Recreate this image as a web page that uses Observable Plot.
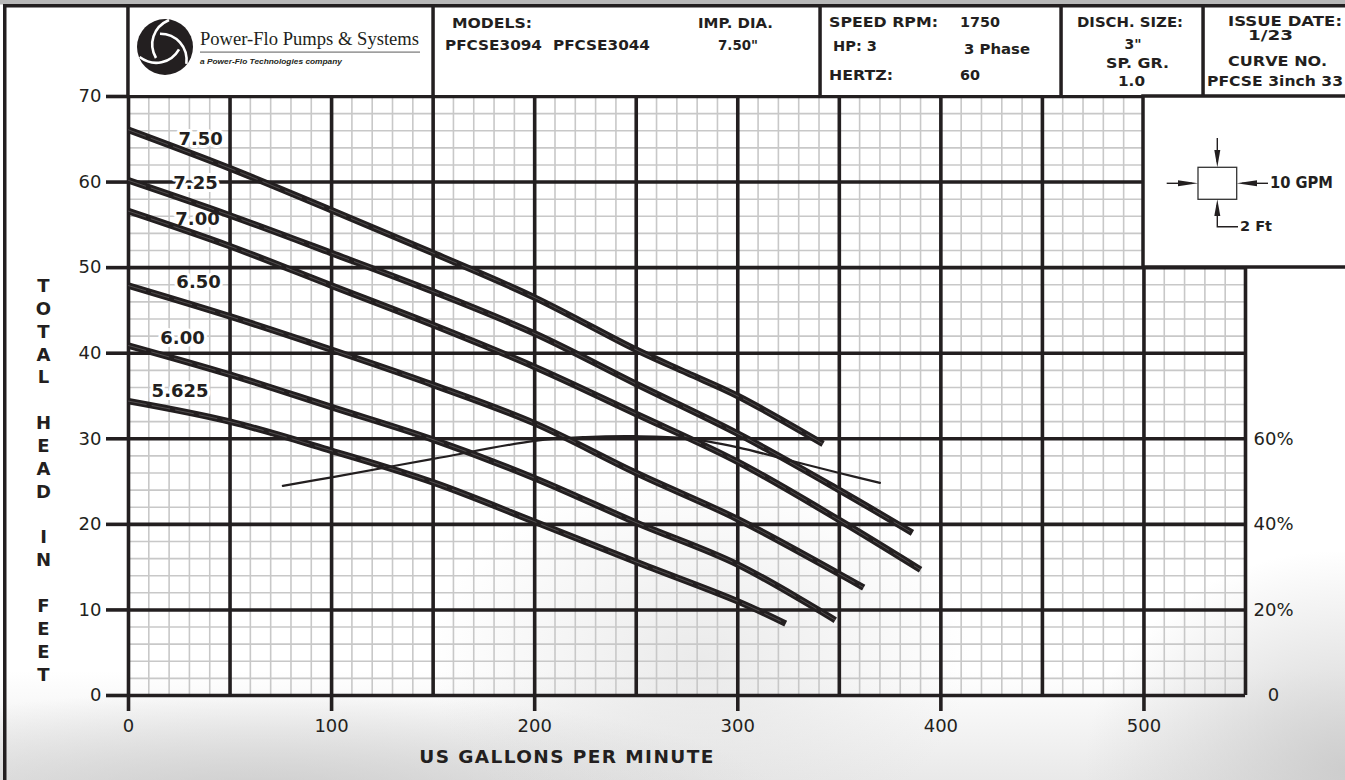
<!DOCTYPE html>
<html><head><meta charset="utf-8">
<script src="https://cdn.jsdelivr.net/npm/d3@7"></script>
<script src="https://cdn.jsdelivr.net/npm/@observablehq/plot@0.6"></script>
<style>
html,body{margin:0;padding:0;background:#fff;}
#wrap{position:relative;width:1345px;height:780px;overflow:hidden;
 background:
  radial-gradient(270px 190px at 700px 660px, rgba(214,214,214,0.5), rgba(255,255,255,0)),
  radial-gradient(520px 110px at 260px 800px, rgba(200,200,200,0.85), rgba(255,255,255,0)),
  radial-gradient(260px 220px at 1345px 770px, rgba(200,200,200,0.85), rgba(255,255,255,0)),
  linear-gradient(to bottom, #fff 0, #fff 86%, #e9e9e9 100%);}
#wrap > svg{position:absolute;left:0;top:0;}
#overlay{pointer-events:none;}
#overlay text.h{font-family:"DejaVu Sans",sans-serif;font-weight:bold;font-size:14px;fill:#231f20;}
</style></head><body>
<div id="wrap">
<svg id="overlay" width="1345" height="780" viewBox="0 0 1345 780">
  <rect x="0" y="0" width="1345" height="4.5" fill="#b8b8b8"/>
  <rect x="128" y="6" width="1217" height="89" fill="#fff"/>
  <rect x="3" y="4" width="1342" height="3.5" fill="#231f20"/>
  <rect x="3" y="4" width="3.5" height="776" fill="#231f20"/>
  <rect x="126.2" y="5" width="3.5" height="92" fill="#231f20"/>
  <rect x="431.3" y="5" width="3.5" height="92" fill="#231f20"/>
  <rect x="818.3" y="5" width="3.5" height="92" fill="#231f20"/>
  <rect x="1059.3" y="5" width="3.5" height="92" fill="#231f20"/>
  <rect x="1201.3" y="5" width="3.5" height="92" fill="#231f20"/>
  <rect x="1143" y="96" width="215" height="171" fill="#fff" stroke="#231f20" stroke-width="3.5"/>
  <!-- logo -->
  <circle cx="165" cy="47" r="28" fill="#231f20"/>
  <g transform="translate(165,47)" fill="none" stroke="#fff" stroke-width="2.6">
    <path d="M4,-27 C-12,-20 -17,-3 -9,11"/>
    <path d="M4,-27 C-12,-20 -17,-3 -9,11" transform="rotate(120)"/>
    <path d="M4,-27 C-12,-20 -17,-3 -9,11" transform="rotate(240)"/>
  </g>
  <text x="200" y="45" textLength="219" lengthAdjust="spacingAndGlyphs" style="font-family:'Liberation Serif',serif;font-size:19px;fill:#231f20">Power-Flo Pumps &amp; Systems</text>
  <rect x="200" y="51.5" width="220" height="1.2" fill="#777"/>
  <text x="200" y="63.5" textLength="142" lengthAdjust="spacingAndGlyphs" style="font-family:'Liberation Sans',sans-serif;font-size:8px;font-style:italic;font-weight:bold;fill:#231f20">a Power-Flo Technologies company</text>
  <!-- box 2 -->
  <text class="h" x="452" y="28" textLength="80" lengthAdjust="spacingAndGlyphs">MODELS:</text>
  <text class="h" x="698" y="28" textLength="75" lengthAdjust="spacingAndGlyphs">IMP. DIA.</text>
  <text class="h" x="445" y="50" textLength="97" lengthAdjust="spacingAndGlyphs">PFCSE3094</text>
  <text class="h" x="553" y="50" textLength="97" lengthAdjust="spacingAndGlyphs">PFCSE3044</text>
  <text class="h" x="718" y="50" textLength="40" lengthAdjust="spacingAndGlyphs">7.50"</text>
  <!-- box 3 -->
  <text class="h" x="829" y="27" textLength="109" lengthAdjust="spacingAndGlyphs">SPEED RPM:</text>
  <text class="h" x="960" y="27" textLength="40" lengthAdjust="spacingAndGlyphs">1750</text>
  <text class="h" x="833" y="51" textLength="44" lengthAdjust="spacingAndGlyphs">HP: 3</text>
  <text class="h" x="964" y="54" textLength="66" lengthAdjust="spacingAndGlyphs">3 Phase</text>
  <text class="h" x="829" y="80" textLength="64" lengthAdjust="spacingAndGlyphs">HERTZ:</text>
  <text class="h" x="960" y="80" textLength="20" lengthAdjust="spacingAndGlyphs">60</text>
  <!-- box 4 -->
  <text class="h" x="1077" y="27" textLength="106" lengthAdjust="spacingAndGlyphs">DISCH. SIZE:</text>
  <text class="h" x="1133" y="49" text-anchor="middle">3"</text>
  <text class="h" x="1106" y="68" textLength="63" lengthAdjust="spacingAndGlyphs">SP. GR.</text>
  <text class="h" x="1118" y="86" textLength="27" lengthAdjust="spacingAndGlyphs">1.0</text>
  <!-- box 5 -->
  <text class="h" x="1228" y="26" textLength="114" lengthAdjust="spacingAndGlyphs">ISSUE DATE:</text>
  <text class="h" x="1248" y="40" textLength="45" lengthAdjust="spacingAndGlyphs">1/23</text>
  <text class="h" x="1228" y="66" textLength="99" lengthAdjust="spacingAndGlyphs">CURVE NO.</text>
  <text class="h" x="1207" y="86" textLength="136" lengthAdjust="spacingAndGlyphs">PFCSE 3inch 33</text>
  <!-- scale key -->
  <rect x="1198" y="167.3" width="38.7" height="32" fill="#fff" stroke="#333" stroke-width="1.3"/>
  <g stroke="#231f20" stroke-width="1.4" fill="none">
    <path d="M1217.3,138 V162"/>
    <path d="M1166.7,183.3 H1192"/>
    <path d="M1268,183.3 H1242"/>
    <path d="M1217.3,205 V226.7 H1238"/>
  </g>
  <g fill="#231f20">
    <path d="M1214.3,150 L1220.3,150 L1217.3,167.3 Z"/>
    <path d="M1178,180.3 L1178,186.3 L1198,183.3 Z"/>
    <path d="M1257,180.3 L1257,186.3 L1236.7,183.3 Z"/>
    <path d="M1214.3,216 L1220.3,216 L1217.3,199.3 Z"/>
  </g>
  <text class="h" x="1270" y="188" textLength="63" lengthAdjust="spacingAndGlyphs" style="font-size:15px">10 GPM</text>
  <text class="h" x="1240" y="231" textLength="32" lengthAdjust="spacingAndGlyphs">2 Ft</text>
</svg>
</div>
<script>
const ink = "#231f20";
// Impeller diameter curves: [US GPM, total head ft]
const dia750  = [[0,66.1],[50,61.6],[100,56.7],[150,51.7],[200,46.5],[250,40.4],[275,37.7],[300,35.0],[342,29.4]];
const dia725  = [[0,60.2],[50,56.1],[100,51.7],[150,47.2],[200,42.3],[250,36.4],[300,30.6],[350,24.0],[386,19.0]];
const dia700  = [[0,56.6],[50,52.5],[100,47.9],[150,43.3],[200,38.4],[250,32.9],[300,27.3],[350,20.5],[390,14.7]];
const dia650  = [[0,47.9],[50,44.3],[100,40.4],[150,36.3],[200,31.8],[250,26.0],[300,20.6],[350,14.2],[362,12.6]];
const dia600  = [[0,40.9],[50,37.5],[100,33.7],[150,29.9],[200,25.4],[250,20.2],[300,15.3],[348,8.8]];
const dia5625 = [[0,34.4],[50,32.0],[100,28.6],[150,24.9],[200,20.3],[250,15.6],[300,11.0],[323.6,8.4]];
const curveNames = ["7.50","7.25","7.00","6.50","6.00","5.625"];
const labelGpm = [35.5, 33, 34, 34.5, 26.6, 25.4];
const labelFt  = [65.0, 59.9, 55.7, 48.3, 41.7, 35.6];
// Efficiency curve (right axis, %)
const effGpm = [76,100,150,200,225,250,275,300,325,350,370];
const effPct = [49.0,51.0,55.3,59.5,60.4,60.6,60.1,58.0,55.0,52.0,49.7];
// Axes
const xTicks = [0,100,200,300,400,500];
const yTicks = [0,10,20,30,40,50,60,70];
const effTicks = [0,20,40,60];
const effTickLabels = ["0","20%","40%","60%"];
const xMinor = d3.range(0, 551, 10);
const yMinor = d3.range(0, 71, 2);
const xMajor = d3.range(0, 551, 50);
const yMajor = d3.range(0, 71, 10);

const curves = [dia750, dia725, dia700, dia650, dia600, dia5625];
const rows = curves.flatMap((c, i) => c.map(([g, h]) => ({name: curveNames[i], gpm: g, ft: h})));
const labels = curveNames.map((n, i) => ({name: n, gpm: labelGpm[i], ft: labelFt[i]}));
const eff = effGpm.map((g, i) => ({gpm: g, ft: effPct[i] / 2}));
const effAxis = effTicks.map((v, i) => ({ft: v / 2, label: effTickLabels[i]}));

const chart = Plot.plot({
  width: 1345, height: 780,
  marginLeft: 128, marginRight: 100, marginTop: 96, marginBottom: 85,
  x: {domain: [0, 550]},
  y: {domain: [0, 70]},
  style: {background: "transparent", color: ink, fontFamily: "DejaVu Sans, sans-serif", fontSize: "18px", overflow: "visible"},
  marks: [
    Plot.ruleX(xMinor, {y1: 0, y2: 70, stroke: "#c8c8c8", strokeWidth: 1.6}),
    Plot.ruleY(yMinor, {x1: 0, x2: 550, stroke: "#c8c8c8", strokeWidth: 1.6}),
    Plot.ruleX(xMajor, {y1: 0, y2: 70, stroke: ink, strokeWidth: 3.6}),
    Plot.ruleY(yMajor, {x1: 0, x2: 550, stroke: ink, strokeWidth: 3.6}),
    Plot.axisX({ticks: xTicks, tickSize: 16, tickPadding: 8, strokeWidth: 3.6, stroke: ink, label: null, fontSize: 18}),
    Plot.axisY({ticks: yTicks, tickSize: 22, tickPadding: 5, strokeWidth: 3.6, stroke: ink, label: null, fontSize: 18}),
    Plot.text(effAxis, {y: "ft", text: "label", frameAnchor: "right", dx: 28, textAnchor: "middle", fontSize: 18, fill: ink}),
    Plot.text(["T\nO\nT\nA\nL\n\u00a0\nH\nE\nA\nD\n\u00a0\nI\nN\n\u00a0\nF\nE\nE\nT"], {frameAnchor: "left", dx: -85, dy: 83, lineHeight: 1.27, fontWeight: "bold", fontSize: 18, fill: ink, textAnchor: "middle"}),
    Plot.text(["US GALLONS PER MINUTE"], {frameAnchor: "bottom", dx: -120, dy: 62, fontWeight: "bold", fontSize: 18.5, fill: ink, textAnchor: "middle", lineAnchor: "middle", className: "xlab"}),
    Plot.text(labels, {x: "gpm", y: "ft", text: "name", fontWeight: "bold", fontSize: 18, fill: ink, stroke: "white", strokeWidth: 6}),
    Plot.line(rows, {x: "gpm", y: "ft", z: "name", stroke: ink, strokeWidth: 6.5, curve: "catmull-rom", strokeLinecap: "butt"}),
    Plot.line(rows, {x: "gpm", y: "ft", z: "name", stroke: "#fff", strokeWidth: 0.7, strokeOpacity: 0.3, strokeDasharray: "18,6", curve: "catmull-rom"}),
    Plot.line(eff, {x: "gpm", y: "ft", stroke: ink, strokeWidth: 2.2, curve: "catmull-rom"})
  ]
});
d3.select(chart).selectAll("text").filter(function() { return this.textContent === "US GALLONS PER MINUTE"; }).style("letter-spacing", "1.4px");
const wrap = document.getElementById("wrap");
wrap.insertBefore(chart, wrap.firstChild);
</script>
</body></html>
